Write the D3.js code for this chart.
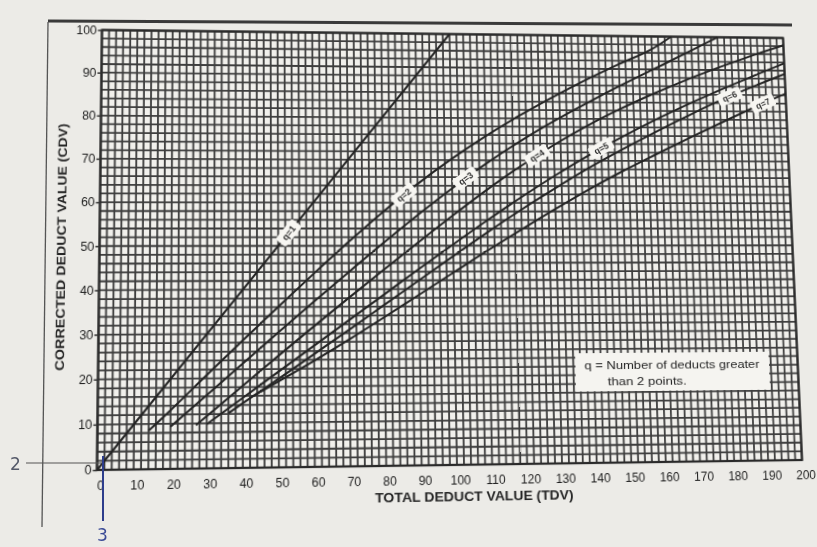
<!DOCTYPE html>
<html>
<head>
<meta charset="utf-8">
<script src="https://cdn.jsdelivr.net/npm/d3@7"></script>
<style>
  html, body { margin: 0; padding: 0; background: #ecebe7; overflow: hidden; }
  #stage { position: relative; width: 817px; height: 547px; }
  #chart, #overlay { position: absolute; left: 0; top: 0; display: block; }
  #chart { transform-origin: 0 0; }
</style>
</head>
<body>
<div id="stage">
<svg id="chart" width="817" height="547"></svg>
<svg id="overlay" width="817" height="547"></svg>
</div>
<script>
// ---------------- DATA ----------------
const xTickLabels = [0,10,20,30,40,50,60,70,80,90,100,110,120,130,140,150,160,170,180,190,200];
const yTickLabels = [0,10,20,30,40,50,60,70,80,90,100];
const gridStep = 2;

// [TDV, CDV] pairs
const q1 = [[0,0],[100,100]];
const q2 = [[14,8.5],[20,13],[30,20.8],[40,28.5],[50,36.1],[60,43.6],[70,50.9],[80,57.9],[90,64.4],[100,70.3],[110,75.7],[120,80.6],[130,85.1],[140,89.3],[150,93.2],[160,96.9],[166,100]];
const q3 = [[20,9.3],[30,16.3],[40,23.3],[50,30.3],[60,37.2],[70,44],[80,50.7],[90,57.2],[100,63.4],[110,69.2],[120,74.5],[130,79.3],[140,83.7],[150,87.9],[160,91.9],[170,95.9],[180,100]];
const q4 = [[27,9.6],[30,11.6],[40,18.3],[50,25],[60,31.6],[70,38.1],[80,44.5],[90,50.8],[100,57],[110,63],[120,68.6],[130,73.7],[140,78.3],[150,82.4],[160,86.1],[170,89.5],[180,92.6],[190,95.5],[200,98.2]];
const q5 = [[30,9.8],[40,15.6],[50,21.4],[60,27.2],[70,33],[80,38.8],[90,44.6],[100,50.3],[110,55.9],[120,61.3],[130,66.4],[140,71.2],[150,75.6],[160,79.7],[170,83.5],[180,87.1],[190,90.5],[200,93.8]];
const q6 = [[36,12.2],[40,14.4],[50,19.8],[60,25.3],[70,30.8],[80,36.4],[90,42],[100,47.6],[110,53.1],[120,58.4],[130,63.4],[140,68.2],[150,72.6],[160,76.8],[170,80.8],[180,84.6],[190,88],[200,91.2]];
const q7 = [[43,16],[50,19.2],[60,23.8],[70,28.6],[80,33.6],[90,38.7],[100,43.8],[110,48.9],[120,53.8],[130,58.6],[140,63.2],[150,67.5],[160,71.5],[170,75.4],[180,79.2],[190,82.9],[200,86.4]];
const curveNames = ["q=1","q=2","q=3","q=4","q=5","q=6","q=7"];
const labelAtTDV = [53, 86, 104, 125, 144, 183, 193];

const xTitle = "TOTAL DEDUCT VALUE (TDV)";
const yTitle = "CORRECTED DEDUCT VALUE (CDV)";
const noteLines = ["q = Number of deducts greater", "than 2 points."];

// ---------------- DRAW ----------------
const FONT = "'Liberation Sans', Arial, sans-serif";
const svg = d3.select("#chart");
const plot = {left: 99.5, right: 792.5, top: 33.5, bottom: 465};
const x = d3.scaleLinear().domain([0,200]).range([plot.left, plot.right]);
const y = d3.scaleLinear().domain([0,100]).range([plot.bottom, plot.top]);

// photographed sheet is slightly tilted: map the ideal plot rectangle onto the photographed quad
function solve(A, b) {
  const n = b.length;
  for (let i = 0; i < n; i++) {
    let p = i;
    for (let r = i+1; r < n; r++) if (Math.abs(A[r][i]) > Math.abs(A[p][i])) p = r;
    [A[i], A[p]] = [A[p], A[i]]; [b[i], b[p]] = [b[p], b[i]];
    for (let r = i+1; r < n; r++) {
      const f = A[r][i] / A[i][i];
      for (let c = i; c < n; c++) A[r][c] -= f * A[i][c];
      b[r] -= f * b[i];
    }
  }
  const xs = new Array(n).fill(0);
  for (let i = n-1; i >= 0; i--) {
    let s = b[i];
    for (let c = i+1; c < n; c++) s -= A[i][c] * xs[c];
    xs[i] = s / A[i][i];
  }
  return xs;
}
function homography(src, dst) {
  const A = [], b = [];
  for (let i = 0; i < 4; i++) {
    const [sx, sy] = src[i], [u, v] = dst[i];
    A.push([sx, sy, 1, 0, 0, 0, -sx*u, -sy*u]); b.push(u);
    A.push([0, 0, 0, sx, sy, 1, -sx*v, -sy*v]); b.push(v);
  }
  return solve(A, b);
}
const src = [[plot.left,plot.top],[plot.right,plot.top],[plot.right,plot.bottom],[plot.left,plot.bottom]];
const dst = [[102,30],[783,38],[802,460],[97,470]];
const [ha,hb,hc,hd,he,hf,hg,hh] = homography(src, dst);
d3.select("#chart").style("transform",
  `matrix3d(${ha},${hd},0,${hg},${hb},${he},0,${hh},0,0,1,0,${hc},${hf},0,1)`);

// plot background
svg.append("rect").attr("x",x(0)).attr("y",y(100)).attr("width",x(200)-x(0)).attr("height",y(0)-y(100))
  .attr("fill","#f1f0ec");

// grid
const gx = d3.range(0, 200 + gridStep, gridStep);
const gy = d3.range(0, 100 + gridStep, gridStep);
const grid = svg.append("g").attr("stroke","#3e3e3e");
grid.selectAll("line.v").data(gx).join("line").attr("class","v")
  .attr("x1",d=>x(d)).attr("x2",d=>x(d)).attr("y1",y(0)).attr("y2",y(100))
  .attr("stroke-width",1.8);
grid.selectAll("line.h").data(gy).join("line").attr("class","h")
  .attr("y1",d=>y(d)).attr("y2",d=>y(d)).attr("x1",x(0)).attr("x2",x(200))
  .attr("stroke-width",1.8);

// border
svg.append("rect").attr("x",x(0)).attr("y",y(100)).attr("width",x(200)-x(0)).attr("height",y(0)-y(100))
  .attr("fill","none").attr("stroke","#2a2a2a").attr("stroke-width",2.2);

// axes
const xAxis = d3.axisBottom(x).tickValues(xTickLabels).tickSize(0).tickPadding(10).tickFormat(d=>d);
const yAxis = d3.axisLeft(y).tickValues(yTickLabels).tickSize(4).tickPadding(1).tickFormat(d=>d);
const gxA = svg.append("g").attr("transform",`translate(0,${y(0)})`).call(xAxis);
const gyA = svg.append("g").attr("transform",`translate(${x(0)},0)`).call(yAxis);
[gxA, gyA].forEach(g => {
  g.select(".domain").remove();
  g.selectAll("text").attr("font-family",FONT).attr("font-size",12).attr("fill","#1e1e1e");
  g.selectAll("line").attr("stroke","#333").attr("stroke-width",1.5);
});
gxA.selectAll("text").attr("dx", 3);

// titles
svg.append("text").attr("x",463).attr("y",500).attr("text-anchor","middle")
  .attr("font-family",FONT).attr("font-weight","bold").attr("font-size",12).attr("fill","#262626")
  .attr("textLength",195).attr("lengthAdjust","spacingAndGlyphs").text(xTitle);
svg.append("text").attr("transform","translate(67,249) rotate(-90)").attr("text-anchor","middle")
  .attr("font-family",FONT).attr("font-weight","bold").attr("font-size",12).attr("fill","#262626")
  .attr("textLength",242).attr("lengthAdjust","spacingAndGlyphs").text(yTitle);

// curves
const allCurves = [q1,q2,q3,q4,q5,q6,q7];
const line = d3.line().x(d=>x(d[0])).y(d=>y(d[1])).curve(d3.curveMonotoneX);
svg.append("g").selectAll("path").data(allCurves).join("path")
  .attr("d", line).attr("fill","none").attr("stroke","#242424").attr("stroke-width",2);

// curve labels (placed on the curves)
function valueAt(curve, t) {
  for (let i = 0; i < curve.length - 1; i++) {
    const a = curve[i], b = curve[i+1];
    if (t >= a[0] && t <= b[0]) {
      const f = (t - a[0]) / (b[0] - a[0]);
      return [a[1] + f*(b[1]-a[1]), a, b];
    }
  }
  const a = curve[curve.length-2], b = curve[curve.length-1];
  return [b[1], a, b];
}
const labG = svg.append("g");
allCurves.forEach((c, i) => {
  const t = labelAtTDV[i];
  const [v, a, b] = valueAt(c, t);
  const px = x(t), py = y(v);
  const ang = Math.atan2(y(b[1]) - y(a[1]), x(b[0]) - x(a[0])) * 180 / Math.PI;
  const g = labG.append("g").attr("transform", `translate(${px},${py}) rotate(${ang})`);
  g.append("rect").attr("x",-13).attr("y",-6.5).attr("width",26).attr("height",13).attr("rx",2.5)
    .attr("fill","#f7f6f2");
  g.append("text").attr("text-anchor","middle").attr("dy","0.35em")
    .attr("font-family",FONT).attr("font-weight","bold")
    .attr("font-size",9).attr("fill","#2e2e2e").text(curveNames[i]);
});

// note box
svg.append("rect").attr("x",566).attr("y",357).attr("width",197).attr("height",38).attr("fill","#f5f4f0");
svg.append("text").attr("x",575).attr("y",373)
  .attr("font-family",FONT).attr("font-size",10.5).attr("fill","#262626")
  .attr("textLength",178).attr("lengthAdjust","spacingAndGlyphs").text(noteLines[0]);
svg.append("text").attr("x",598).attr("y",389)
  .attr("font-family",FONT).attr("font-size",10.5).attr("fill","#262626")
  .attr("textLength",80).attr("lengthAdjust","spacingAndGlyphs").text(noteLines[1]);

// ---------- paper frame and handwritten marks (untransformed overlay) ----------
const ov = d3.select("#overlay");
ov.append("line").attr("x1",48).attr("y1",21).attr("x2",792).attr("y2",25)
  .attr("stroke","#3a3a3a").attr("stroke-width",3);
ov.append("line").attr("x1",48).attr("y1",22).attr("x2",42).attr("y2",527)
  .attr("stroke","#555").attr("stroke-width",1.3);
ov.append("line").attr("x1",26).attr("y1",463).attr("x2",101).attr("y2",463)
  .attr("stroke","#555").attr("stroke-width",1.2);
ov.append("text").attr("x",10).attr("y",470).attr("font-family","'DejaVu Sans', sans-serif")
  .attr("font-size",17).attr("fill","#555a6a").text("2");
ov.append("line").attr("x1",103).attr("y1",456).attr("x2",103).attr("y2",521)
  .attr("stroke","#2d3d8c").attr("stroke-width",2);
ov.append("text").attr("x",97).attr("y",541).attr("font-family","'DejaVu Sans', sans-serif")
  .attr("font-size",17).attr("fill","#3a4a96").text("3");
</script>
</body>
</html>
